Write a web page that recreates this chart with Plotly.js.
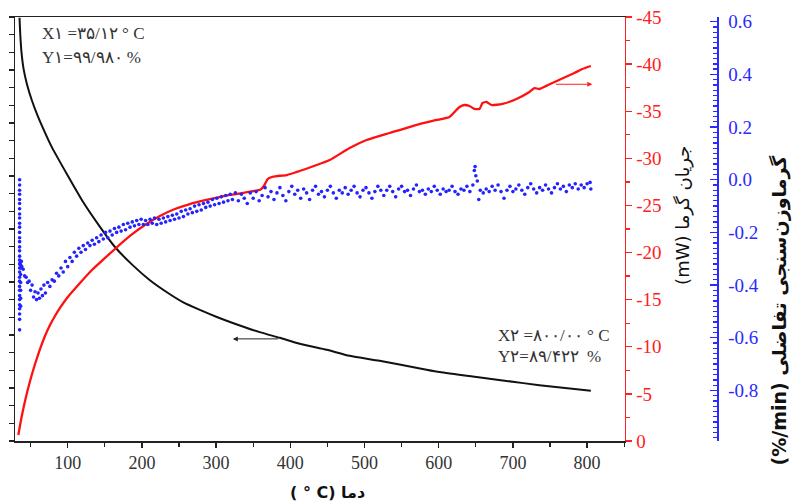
<!DOCTYPE html>
<html>
<head>
<meta charset="utf-8">
<script src="https://cdn.plot.ly/plotly-3.0.1.min.js"></script>
<style>html,body{margin:0;padding:0;background:#fff;}#chart{width:792px;height:503px;}</style>
</head>
<body>
<div id="chart"></div>
<script>
// ---- data ----
// TG (mass %, left axis without labels)
var tempTG = [35.1, 36.2, 37.8, 40.5, 45.2, 51.9, 60.0, 69.4, 78.8, 89.6, 100.4, 120.6, 143.5, 163.7, 187.9, 210.8, 233.7, 255.2, 278.1, 301.0, 322.5, 358.9, 385.8, 412.7, 449.1, 480.0, 520.3, 578.2, 601.1, 650.9, 691.3, 735.7, 805.0];
var massTG = [99.98, 99.47, 98.99, 98.54, 98.09, 97.63, 97.18, 96.73, 96.31, 95.90, 95.50, 94.77, 94.06, 93.49, 92.97, 92.55, 92.21, 91.93, 91.71, 91.51, 91.34, 91.08, 90.92, 90.75, 90.58, 90.41, 90.27, 90.04, 89.95, 89.81, 89.70, 89.58, 89.42];

// heat flow (mW, red axis)
var tempHF = [33.5, 37.1, 42.5, 49.3, 56.0, 62.7, 69.4, 76.2, 82.9, 89.6, 99.1, 116.6, 132.7, 148.9, 163.7, 183.9, 204.0, 224.2, 244.4, 264.6, 278.1, 298.3, 318.5, 360.2, 364.3, 369.6, 375.0, 381.8, 395.2, 435.6, 453.1, 480.0, 502.8, 533.8, 564.7, 597.0, 614.5, 628.0, 634.7, 641.5, 648.2, 654.9, 659.0, 664.4, 671.1, 685.9, 704.7, 722.2, 729.0, 735.7, 753.2, 782.8, 793.5, 805.0];
var heatHF = [-0.64, -2.23, -4.25, -6.37, -8.17, -9.76, -11.14, -12.31, -13.27, -14.12, -15.18, -16.77, -18.15, -19.32, -20.38, -21.76, -22.92, -23.88, -24.62, -25.15, -25.42, -25.79, -26.11, -26.69, -27.06, -27.81, -28.02, -28.12, -28.23, -29.29, -29.82, -31.10, -31.94, -32.69, -33.43, -34.07, -34.39, -35.45, -35.66, -35.55, -35.24, -35.24, -35.87, -35.98, -35.66, -35.77, -36.30, -37.04, -37.46, -37.36, -38.00, -39.06, -39.48, -39.80];

// DTG dots (%/min, blue axis): [temperature, value]
var dtgPoints = [
 [35.2,0.0],[35.2,-0.02],[35.2,-0.04],[35.2,-0.055],[35.2,-0.075],[35.2,-0.09],[35.2,-0.11],[35.2,-0.13],
 [35.2,-0.145],[35.2,-0.165],[35.2,-0.18],[35.2,-0.2],[35.2,-0.22],[35.2,-0.235],[35.2,-0.255],[35.2,-0.27],
 [35.2,-0.29],[35.2,-0.305],[35.2,-0.32],[35.2,-0.335],[35.2,-0.35],[35.2,-0.37],[35.2,-0.385],[35.2,-0.405],
 [35.2,-0.42],[35.2,-0.44],[35.2,-0.455],[35.2,-0.475],[35.2,-0.49],[35.2,-0.51],[35.2,-0.53],[35.2,-0.57],
 [36.0,-0.315],[36.8,-0.325],[37.5,-0.31],[38.2,-0.33],[36.5,-0.335],
 [36.6,-0.36],[36.6,-0.39],[36.6,-0.42],[36.6,-0.45],[36.6,-0.48],
 [40,-0.34],[42,-0.365],[44,-0.37],[46,-0.39],[48,-0.385],[50,-0.42],[52,-0.40],[54,-0.445],[56,-0.425],[58,-0.455],
 [60,-0.43],[62,-0.45],[64,-0.415],[66,-0.44],[68,-0.40],[70,-0.43],[73,-0.39],[76,-0.405],[79,-0.38],[82,-0.385],
 [85,-0.355],[88,-0.365],[91,-0.335],[94,-0.35],[97,-0.31],[100,-0.33],[103,-0.295],[106,-0.31],[109,-0.275],[112,-0.29],
 [115,-0.26],[118,-0.275],[121,-0.25],[124,-0.265],[127,-0.24],[130,-0.25],[133,-0.23],[136,-0.245],[139,-0.22],[142,-0.235],
 [145,-0.21],[148,-0.225],[151,-0.2],[154,-0.22],[157,-0.195],[160,-0.21],[163,-0.185],[166,-0.2],[169,-0.18],[172,-0.195],
 [175,-0.17],[178,-0.19],[181,-0.165],[184,-0.18],[187,-0.16],[190,-0.175],[193,-0.155],[196,-0.17],[199,-0.15],[202,-0.17],
 [205,-0.155],[208,-0.17],[211,-0.15],[214,-0.165],[217,-0.145],[220,-0.17],[223,-0.15],[226,-0.165],[229,-0.145],[232,-0.16],
 [235,-0.14],[238,-0.155],[241,-0.135],[244,-0.15],[247,-0.13],[250,-0.145],[253,-0.12],[256,-0.14],[259,-0.115],[262,-0.13],
 [265,-0.11],[268,-0.125],[271,-0.1],[274,-0.12],[277,-0.095],[280,-0.115],[283,-0.09],[286,-0.105],[289,-0.085],[292,-0.1],
 [295,-0.075],[298,-0.095],[301,-0.07],[304,-0.09],[307,-0.065],[310,-0.085],[313,-0.06],[316,-0.08],[319,-0.055],[322,-0.075],
 [326,-0.05],[330,-0.08],[334,-0.055],[338,-0.07],[342,-0.09],[346,-0.05],[350,-0.07],[354,-0.045],[358,-0.08],[362,-0.06],
 [366,-0.03],[370,-0.065],[374,-0.045],[378,-0.075],[382,-0.05],[386,-0.03],[390,-0.06],[394,-0.08],[398,-0.045],[402,-0.025],
 [406,-0.055],[410,-0.04],[414,-0.07],[418,-0.035],[422,-0.05],[426,-0.075],[430,-0.04],[434,-0.025],[438,-0.055],[442,-0.045],
 [446,-0.065],[450,-0.04],[454,-0.025],[458,-0.05],[462,-0.07],[466,-0.04],[470,-0.05],[474,-0.03],[478,-0.055],[482,-0.04],
 [486,-0.025],[490,-0.05],[494,-0.065],[498,-0.04],[502,-0.03],[506,-0.05],[510,-0.07],[514,-0.045],[518,-0.025],[522,-0.04],
 [526,-0.06],[530,-0.04],[534,-0.025],[538,-0.045],[542,-0.065],[546,-0.035],[550,-0.025],[554,-0.045],[558,-0.04],[562,-0.06],
 [566,-0.035],[570,-0.02],[574,-0.045],[578,-0.04],[582,-0.055],[586,-0.035],[590,-0.045],[594,-0.025],[598,-0.04],[602,-0.055],
 [606,-0.035],[610,-0.045],[614,-0.04],[618,-0.025],[622,-0.045],[626,-0.055],[630,-0.035],[634,-0.04],[638,-0.025],[642,-0.045],
 [646,-0.02],[648,0.035],[649,0.05],[650,0.015],[652,-0.005],[654,-0.075],[656,-0.04],[660,-0.05],[664,-0.035],[668,-0.045],
 [672,-0.025],[676,-0.04],[680,-0.02],[684,-0.045],[688,-0.07],[692,-0.04],[696,-0.025],[700,-0.045],[704,-0.035],[708,-0.02],
 [712,-0.04],[716,-0.055],[720,-0.03],[724,-0.015],[728,-0.035],[732,-0.05],[736,-0.03],[740,-0.04],[744,-0.02],[748,-0.035],
 [752,-0.05],[756,-0.03],[760,-0.015],[764,-0.035],[768,-0.025],[772,-0.045],[776,-0.02],[780,-0.03],[784,-0.015],[788,-0.035],
 [792,-0.02],[796,-0.03],[800,-0.015],[804,-0.01],[805,-0.035]
];

// tick labels
var xTickVals = [100, 200, 300, 400, 500, 600, 700, 800];
var xTickText = ['100', '200', '300', '400', '500', '600', '700', '800'];
var hfTickVals = [0, -5, -10, -15, -20, -25, -30, -35, -40, -45];
var hfTickText = ['0', '-5', '-10', '-15', '-20', '-25', '-30', '-35', '-40', '-45'];
var dtgTickVals = [-1.0, -0.8, -0.6, -0.4, -0.2, 0.0, 0.2, 0.4, 0.6];
var dtgTickText = ['-1.0', '-0.8', '-0.6', '-0.4', '-0.2', '0.0', '0.2', '0.4', '0.6'];

// texts
var note1a = 'X\u06F1 =\u06F3\u06F5/\u06F1\u06F2 \u00B0 C';
var note1b = 'Y\u06F1=\u06F9\u06F9/\u06F9\u06F8\u06F0 %';
var note2a = 'X\u06F2 =\u06F8\u06F0\u06F0/\u06F0\u06F0 \u00B0 C';
var note2b = 'Y\u06F2=\u06F8\u06F9/\u06F4\u06F2\u06F2 \u00A0%';
var xTitle = '( \u00B0 C) \u062F\u0645\u0627';
var hfTitle = '(mW) \u062C\u0631\u06CC\u0627\u0646 \u06AF\u0631\u0645\u0627';
var dtgTitle = '(%/min) \u06AF\u0631\u0645\u0627\u0648\u0632\u0646\u200C\u0633\u0646\u062C\u06CC \u062A\u0641\u0627\u0636\u0644\u06CC';

var serif = 'Liberation Serif, Times New Roman, DejaVu Serif, serif';
var persian = 'DejaVu Sans, Noto Sans, sans-serif';

var traces = [
  {x: tempTG, y: massTG, type: 'scatter', mode: 'lines', yaxis: 'y',
   line: {color: '#111111', width: 2, shape: 'spline', smoothing: 0.6}, hoverinfo: 'skip'},
  {x: tempHF, y: heatHF, type: 'scatter', mode: 'lines', yaxis: 'y2',
   line: {color: '#ff1010', width: 2.3, shape: 'spline', smoothing: 0.5}, hoverinfo: 'skip'},
  {x: dtgPoints.map(function(p){return p[0];}), y: dtgPoints.map(function(p){return p[1];}),
   type: 'scatter', mode: 'markers', yaxis: 'y3',
   marker: {color: '#2323ff', size: 3.6}, hoverinfo: 'skip'}
];

var layout = {
  width: 792, height: 503,
  margin: {l: 15, r: 75, t: 17, b: 62},
  paper_bgcolor: '#ffffff', plot_bgcolor: '#ffffff',
  showlegend: false,
  font: {family: serif, color: '#333'},
  xaxis: {
    domain: [0, 0.8689], range: [29, 851],
    showline: true, linecolor: '#222', linewidth: 1.5, mirror: true,
    ticks: 'outside', ticklen: 5, tickwidth: 1.3, tickcolor: '#222',
    tickmode: 'array', tickvals: xTickVals, ticktext: xTickText,
    tickfont: {family: serif, size: 18, color: '#333'},
    minor: {tickmode: 'linear', tick0: 0, dtick: 50, ticks: 'outside', ticklen: 4, tickcolor: '#222', showgrid: false},
    showgrid: false, zeroline: false
  },
  yaxis: {
    range: [88, 100], showticklabels: false,
    ticks: 'outside', ticklen: 5, tickwidth: 1.3, tickcolor: '#222', tickmode: 'linear', tick0: 88, dtick: 0.5,
    showline: true, linecolor: '#222', linewidth: 1.5,
    showgrid: false, zeroline: false
  },
  yaxis2: {
    overlaying: 'y', side: 'right', anchor: 'x',
    range: [0, -45],
    showline: true, linecolor: '#ff2020', linewidth: 1.5,
    ticks: 'outside', ticklen: 6, tickwidth: 1.3, tickcolor: '#ff2020',
    tickmode: 'array', tickvals: hfTickVals, ticktext: hfTickText,
    tickfont: {family: serif, size: 19, color: '#ff2020'},
    minor: {tickmode: 'linear', tick0: 0, dtick: 2.5, ticks: 'outside', ticklen: 4, tickcolor: '#ff2020', showgrid: false},
    showgrid: false, zeroline: false
  },
  yaxis3: {
    overlaying: 'y', side: 'right', anchor: 'free', position: 1,
    range: [-0.992, 0.618],
    showline: true, linecolor: '#2a2aff', linewidth: 1.5,
    ticks: 'inside', ticklen: 7, tickwidth: 1.3, tickcolor: '#2a2aff',
    tickmode: 'array', tickvals: dtgTickVals, ticktext: dtgTickText,
    ticklabelstandoff: 6,
    tickfont: {family: serif, size: 19, color: '#2a2aff'},
    minor: {tickmode: 'linear', tick0: 0, dtick: 0.02, ticks: 'inside', ticklen: 4, tickcolor: '#2a2aff', showgrid: false},
    showgrid: false, zeroline: false
  },
  annotations: [
    {xref: 'x', yref: 'y2', x: 62.7, y: -43.3, text: note1a, showarrow: false, xanchor: 'left', yanchor: 'middle',
     font: {family: serif, size: 17, color: '#333'}},
    {xref: 'x', yref: 'y2', x: 62.7, y: -40.75, text: note1b, showarrow: false, xanchor: 'left', yanchor: 'middle',
     font: {family: serif, size: 17, color: '#333'}},
    {xref: 'x', yref: 'y2', x: 677.4, y: -11.25, text: note2a, showarrow: false, xanchor: 'left', yanchor: 'middle',
     font: {family: serif, size: 17, color: '#333'}},
    {xref: 'x', yref: 'y2', x: 677.4, y: -8.95, text: note2b, showarrow: false, xanchor: 'left', yanchor: 'middle',
     font: {family: serif, size: 17, color: '#333'}},
    // arrows
    {xref: 'x', yref: 'y', x: 322.5, y: 90.89, axref: 'x', ayref: 'y', ax: 385.7, ay: 90.89, text: '',
     showarrow: true, arrowhead: 2, arrowsize: 1, arrowwidth: 1, arrowcolor: '#222'},
    {xref: 'x', yref: 'y2', x: 807, y: -37.86, axref: 'x', ayref: 'y2', ax: 755.8, ay: -37.86, text: '',
     showarrow: true, arrowhead: 2, arrowsize: 1, arrowwidth: 1, arrowcolor: '#ff2020'},
    // axis titles
    {xref: 'paper', yref: 'paper', x: 0.445, y: -0.1226, text: xTitle, showarrow: false, xanchor: 'center', yanchor: 'middle',
     font: {family: persian, size: 16, color: '#111', weight: 'bold'}},
    {xref: 'paper', yref: 'paper', x: 0.9516, y: 0.531, text: hfTitle, showarrow: false, textangle: -90, xanchor: 'center', yanchor: 'middle',
     font: {family: persian, size: 18, color: '#111'}},
    {xref: 'paper', yref: 'paper', x: 1.0897, y: 0.31, text: dtgTitle, showarrow: false, textangle: -90, xanchor: 'center', yanchor: 'middle',
     font: {family: persian, size: 19, color: '#111', weight: 'bold'}}
  ]
};

Plotly.newPlot('chart', traces, layout, {staticPlot: true, displayModeBar: false});
</script>
</body>
</html>
